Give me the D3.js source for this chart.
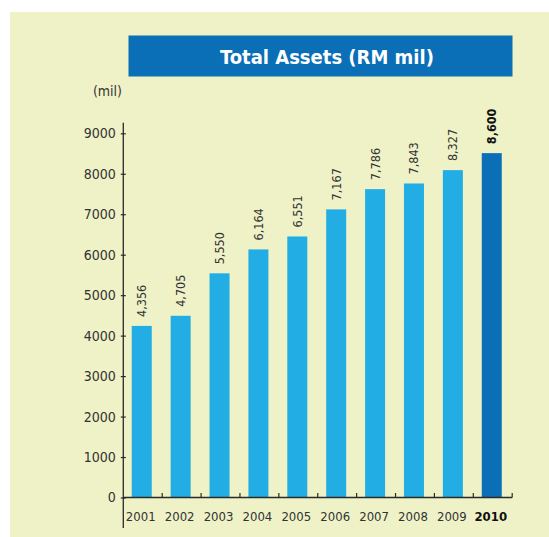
<!DOCTYPE html>
<html>
<head>
<meta charset="utf-8">
<script src="https://cdn.jsdelivr.net/npm/d3@7"></script>
<style>
  body { margin: 0; background: #fff; }
  svg { display: block; }
</style>
</head>
<body>
<div id="chart"></div>
<script>
// data
var years = ["2001", "2002", "2003", "2004", "2005", "2006", "2007", "2008", "2009", "2010"];
var valueLabels = ["4,356", "4,705", "5,550", "6,164", "6,551", "7,167", "7,786", "7,843", "8,327", "8,600"];
// bar heights as drawn in the picture (RM mil)
var barValues = [4240, 4490, 5540, 6130, 6450, 7120, 7620, 7760, 8090, 8510];
var yTicks = [0, 1000, 2000, 3000, 4000, 5000, 6000, 7000, 8000, 9000];

var W = 549, H = 537;
var font = "'DejaVu Sans Condensed', 'DejaVu Sans'";

var svg = d3.select("#chart")
  .append("svg")
    .attr("width", W)
    .attr("height", H);

// panel
svg.append("rect")
  .attr("x", 10).attr("y", 12)
  .attr("width", W - 10).attr("height", H - 12)
  .attr("fill", "#eef2c6");

// title box
svg.append("rect")
  .attr("x", 128.5).attr("y", 35.5)
  .attr("width", 384).attr("height", 41)
  .attr("fill", "#0a6fb7");

svg.append("text")
  .attr("x", 327).attr("y", 64)
  .attr("text-anchor", "middle")
  .style("font-family", font)
  .style("font-weight", "bold")
  .style("font-size", "20px")
  .attr("fill", "#fff")
  .text("Total Assets (RM mil)");

svg.append("text")
  .attr("x", 122).attr("y", 96)
  .attr("text-anchor", "end")
  .style("font-family", font)
  .style("font-size", "14px")
  .attr("fill", "#333")
  .text("(mil)");

// scales
var x = d3.scaleBand()
  .domain(years)
  .range([123.3, 512.2]);

var y = d3.scaleLinear()
  .domain([0, 9000])
  .range([497.5, 133.3]);

var barW = 20;

// bars
svg.selectAll(".bar")
  .data(years)
  .enter()
  .append("rect")
  .attr("class", "bar")
  .attr("x", function(d) { return x(d) + (x.bandwidth() - barW) / 2 - 1; })
  .attr("y", function(d, i) { return y(barValues[i]); })
  .attr("width", barW)
  .attr("height", function(d, i) { return y(0) - y(barValues[i]); })
  .attr("fill", function(d, i) { return i == years.length - 1 ? "#0a6fb7" : "#22aee4"; });

// value labels
svg.selectAll(".val")
  .data(years)
  .enter()
  .append("text")
  .attr("class", "val")
  .attr("transform", function(d, i) {
    var cx = x(d) + x.bandwidth() / 2 - 1 + 4.5;
    return "translate(" + cx + "," + (y(barValues[i]) - 9) + ")rotate(-90)";
  })
  .style("font-family", font)
  .style("font-size", "12.5px")
  .style("font-weight", function(d, i) { return i == years.length - 1 ? "bold" : "normal"; })
  .attr("fill", function(d, i) { return i == years.length - 1 ? "#111" : "#333"; })
  .text(function(d, i) { return valueLabels[i]; });

// Y axis
var yAxis = svg.append("g")
  .attr("transform", "translate(123.3,0)")
  .call(d3.axisLeft(y).tickValues(yTicks).tickFormat(d3.format("d")).tickSize(2.5).tickPadding(5));
yAxis.select(".domain").remove();
yAxis.selectAll(".tick line").attr("x1", 2.5).attr("stroke", "#2a2a2a").attr("stroke-width", 1.2);
yAxis.selectAll(".tick text")
  .style("font-family", font)
  .style("font-size", "14px")
  .attr("fill", "#333");
yAxis.append("line")
  .attr("x1", 0).attr("x2", 0)
  .attr("y1", 122.7).attr("y2", 528)
  .attr("stroke", "#2a2a2a").attr("stroke-width", 1.3);

// X axis
var xAxis = svg.append("g")
  .attr("transform", "translate(0," + y(0) + ")")
  .call(d3.axisBottom(x).tickSize(0).tickPadding(14));
xAxis.select(".domain").remove();
xAxis.append("line")
  .attr("x1", 123.3).attr("x2", 512.2)
  .attr("stroke", "#2a2a2a").attr("stroke-width", 1.3);
xAxis.selectAll(".sep")
  .data(years)
  .enter()
  .append("line")
  .attr("class", "sep")
  .attr("x1", function(d) { return x(d) + x.step(); })
  .attr("x2", function(d) { return x(d) + x.step(); })
  .attr("y1", 0).attr("y2", -4.5)
  .attr("stroke", "#2a2a2a").attr("stroke-width", 1.2);
xAxis.selectAll(".tick text")
  .style("font-family", font)
  .style("font-size", "13px")
  .style("font-weight", function(d) { return d == "2010" ? "bold" : "normal"; })
  .attr("fill", function(d) { return d == "2010" ? "#111" : "#333"; })
  .attr("dx", "-2");
</script>
</body>
</html>
